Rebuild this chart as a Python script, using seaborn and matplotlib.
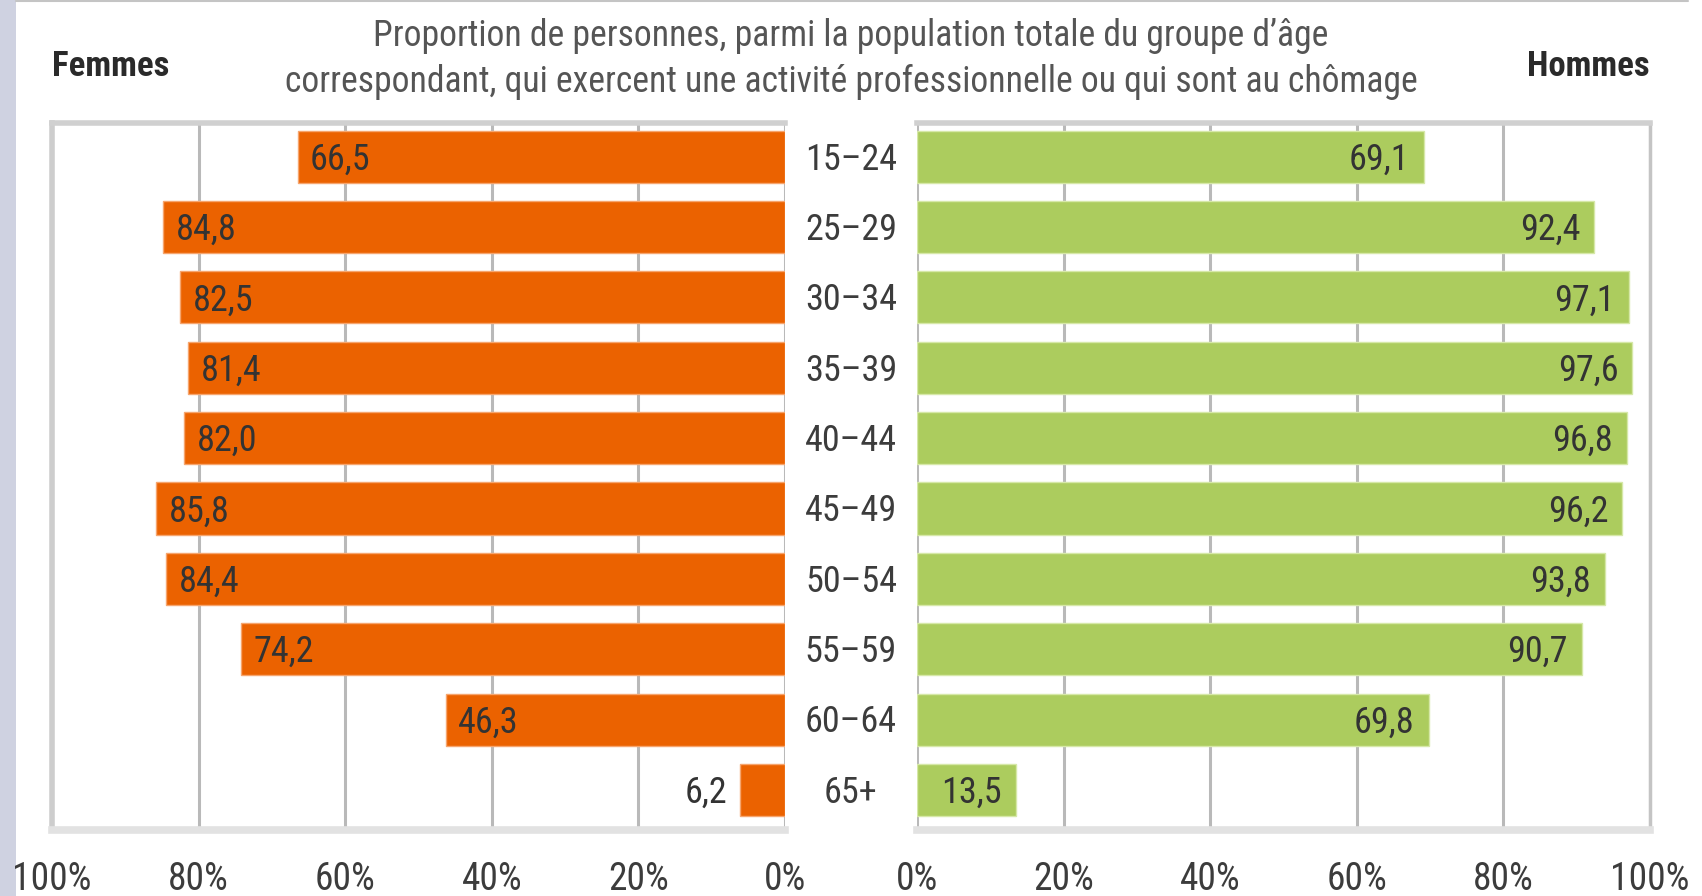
import matplotlib
matplotlib.use("Agg")
import matplotlib.pyplot as plt
import matplotlib.transforms as mtransforms
from matplotlib import font_manager
from matplotlib.patches import Rectangle
from matplotlib.lines import Line2D
import seaborn as sns
import pandas as pd

# ---- data ----
age_groups = ["15–24", "25–29", "30–34", "35–39", "40–44",
              "45–49", "50–54", "55–59", "60–64", "65+"]
femmes = [66.5, 84.8, 82.5, 81.4, 82.0, 85.8, 84.4, 74.2, 46.3, 6.2]
hommes = [69.1, 92.4, 97.1, 97.6, 96.8, 96.2, 93.8, 90.7, 69.8, 13.5]
tick_values = [0, 20, 40, 60, 80, 100]
tick_labels = ["0%", "20%", "40%", "60%", "80%", "100%"]
title_lines = ["Proportion de personnes, parmi la population totale du groupe d’âge",
               "correspondant, qui exercent une activité professionnelle ou qui sont au chômage"]
label_f = "Femmes"
label_h = "Hommes"

ORANGE = "#EB6200"
GREEN = "#ACCC5E"

sns.set_theme(style="white")
avail = {f.name for f in font_manager.fontManager.ttflist}
FONT = "Liberation Sans"
for cand in ["Liberation Sans Narrow", "DejaVu Sans Condensed", "Roboto Condensed",
             "Open Sans Condensed", "Liberation Sans"]:
    if cand in avail:
        FONT = cand
        break
plt.rcParams["font.family"] = [FONT, "DejaVu Sans"]

df = pd.DataFrame({"age": age_groups, "femmes": femmes, "hommes": hommes})

W, H = 1702, 896
fig = plt.figure(figsize=(W / 100, H / 100), dpi=100)
fig.patch.set_facecolor("white")

ax_bottom_px, ax_top_px = 830, 123
bottom = 1 - ax_bottom_px / H
height = (ax_bottom_px - ax_top_px) / H
axL = fig.add_axes([52 / W, bottom, 733 / W, height])
axR = fig.add_axes([917 / W, bottom, 733 / W, height])

sns.barplot(data=df, y="age", x="femmes", orient="h", color=ORANGE, saturation=1,
            width=0.74, ax=axL, edgecolor="#F6A56E", linewidth=1.0, zorder=3)
sns.barplot(data=df, y="age", x="hommes", orient="h", color=GREEN, saturation=1,
            width=0.74, ax=axR, edgecolor="#D6E8A8", linewidth=1.0, zorder=3)

GRID = "#b9b9b9"
for ax in (axL, axR):
    ax.set_ylim(9.57, -0.48)
    ax.set_yticks([])
    ax.set_ylabel("")
    ax.set_xlabel("")
    ax.set_xticks(tick_values)
    ax.set_xticklabels(tick_labels)
    ax.grid(axis="x", color=GRID, linewidth=2.2, zorder=0)
    ax.set_axisbelow(True)
    ax.tick_params(axis="x", length=9, width=2.2, color=GRID, pad=13,
                   labelsize=27, labelcolor="#3c3c3c")
    ax.set_facecolor("white")
    for s in ax.spines.values():
        s.set_visible(False)
    ax.spines["top"].set_visible(True)
    ax.spines["top"].set_color("#d0d0d0")
    ax.spines["top"].set_linewidth(4)
    ax.spines["bottom"].set_visible(True)
    ax.spines["bottom"].set_color("#e2e2e2")
    ax.spines["bottom"].set_linewidth(5.5)

axL.set_xlim(100, 0)
axR.set_xlim(0, 100)
axL.spines["left"].set_visible(True)
axL.spines["left"].set_color("#cdcdcd")
axL.spines["left"].set_linewidth(4)
axR.spines["right"].set_visible(True)
axR.spines["right"].set_color("#c4c4c4")
axR.spines["right"].set_linewidth(2.5)

VAL_SIZE = 26
TXT = "#333333"
def fmt(v):
    return f"{v:.1f}".replace(".", ",")

for i, v in enumerate(femmes):
    if v >= 10:
        axL.annotate(fmt(v), xy=(v, i), xytext=(9, -2), textcoords="offset points",
                     ha="left", va="center", fontsize=VAL_SIZE, color=TXT, zorder=5)
    else:
        axL.annotate(fmt(v), xy=(v, i), xytext=(-9, -2), textcoords="offset points",
                     ha="right", va="center", fontsize=VAL_SIZE, color=TXT, zorder=5)
for i, v in enumerate(hommes):
    axR.annotate(fmt(v), xy=(v, i), xytext=(-10, -2), textcoords="offset points",
                 ha="right", va="center", fontsize=VAL_SIZE, color=TXT, zorder=5)

# age group labels between the two panels
mid_x = (axL.get_position().x1 + axR.get_position().x0) / 2
trans = mtransforms.blended_transform_factory(fig.transFigure, axL.transData)
offset = mtransforms.ScaledTranslation(0, -2 / 72, fig.dpi_scale_trans)
for i, g in enumerate(age_groups):
    axL.text(mid_x, i, g, transform=trans + offset, ha="center", va="center",
             fontsize=VAL_SIZE, color="#3c3c3c", clip_on=False)

# titles
fig.text(mid_x, 1 - 36 / H, title_lines[0], ha="center", va="center",
         fontsize=25.7, color="#555555")
fig.text(mid_x, 1 - 82 / H, title_lines[1], ha="center", va="center",
         fontsize=25.7, color="#555555")
fig.text(52 / W, 1 - 67 / H, label_f, ha="left", va="center", fontsize=25,
         fontweight="bold", color="#2a2a2a")
fig.text(1650 / W, 1 - 67 / H, label_h, ha="right", va="center", fontsize=25,
         fontweight="bold", color="#2a2a2a")

# page decorations
fig.patches.append(Rectangle((0, 0), 16 / W, 1, transform=fig.transFigure,
                             facecolor="#cfd2e1", edgecolor="none", zorder=-1))
fig.lines.append(Line2D([16 / W, 1688 / W], [1 - 1 / H, 1 - 1 / H],
                        transform=fig.transFigure, color="#c4c4c4", linewidth=1.5))

fig.savefig("out.png", dpi=100, facecolor="white")
